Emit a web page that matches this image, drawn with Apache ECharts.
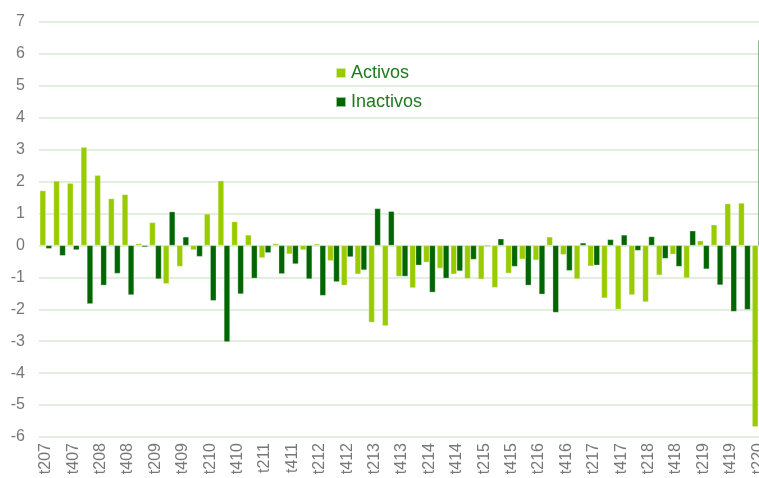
<!DOCTYPE html>
<html>
<head>
<meta charset="utf-8">
<script src="https://cdn.jsdelivr.net/npm/echarts@6/dist/echarts.min.js"></script>
<style>html,body{margin:0;padding:0;background:#fff;overflow:hidden;}#c{width:759px;height:478px;}</style>
</head>
<body>
<div id="c"></div>
<script>
var categories = ["t207","t307","t407","t108","t208","t308","t408","t109","t209","t309","t409","t110","t210","t310","t410","t111","t211","t311","t411","t112","t212","t312","t412","t113","t213","t313","t413","t114","t214","t314","t414","t115","t215","t315","t415","t116","t216","t316","t416","t117","t217","t317","t417","t118","t218","t318","t418","t119","t219","t319","t419","t120","t220"];
var activos = [1.72,2.02,1.95,3.08,2.2,1.47,1.6,0.06,0.72,-1.2,-0.66,-0.14,0.99,2.03,0.75,0.33,-0.39,0.06,-0.27,-0.14,0.05,-0.48,-1.25,-0.9,-2.41,-2.52,-0.97,-1.33,-0.53,-0.72,-0.9,-1.04,-1.06,-1.32,-0.87,-0.43,-0.46,0.27,-0.29,-1.05,-0.65,-1.65,-2.0,-1.55,-1.77,-0.93,-0.28,-1.02,0.15,0.65,1.31,1.33,-5.68];
var inactivos = [-0.1,-0.32,-0.14,-1.83,-1.25,-0.88,-1.55,-0.05,-1.05,1.06,0.27,-0.35,-1.73,-3.02,-1.52,-1.03,-0.23,-0.89,-0.58,-1.05,-1.57,-1.14,-0.36,-0.77,1.16,1.07,-0.97,-0.62,-1.47,-1.03,-0.8,-0.44,-0.03,0.21,-0.66,-1.25,-1.53,-2.1,-0.79,0.08,-0.62,0.19,0.33,-0.16,0.28,-0.41,-0.66,0.46,-0.74,-1.24,-2.07,-2.01,6.43];
var yMin = -6, yMax = 7, yStep = 1;

var chart = echarts.init(document.getElementById('c'), null, {renderer: 'canvas'});
chart.setOption({
  animation: false,
  backgroundColor: '#ffffff',
  textStyle: {fontFamily: 'Liberation Sans, Arial, sans-serif'},
  legend: {
    orient: 'vertical',
    left: 330,
    top: 59,
    itemWidth: 10,
    itemHeight: 10,
    itemGap: 11,
    icon: 'rect',
    textStyle: {color: '#1f7a1f', fontSize: 18, fontFamily: 'Liberation Sans, Arial, sans-serif'},
    data: ['Activos', 'Inactivos']
  },
  grid: {left: 39, width: 726, top: 22, bottom: 41, containLabel: false, outerBoundsMode: 'none'},
  xAxis: {
    type: 'category',
    data: categories,
    axisLine: {show: false},
    axisTick: {show: false},
    axisLabel: {
      interval: 1,
      rotate: 90,
      margin: 6,
      color: '#777777',
      fontSize: 16,
      fontFamily: 'Liberation Sans, Arial, sans-serif'
    },
    splitLine: {show: false}
  },
  yAxis: {
    type: 'value',
    min: yMin,
    max: yMax,
    interval: yStep,
    axisLine: {show: false},
    axisTick: {show: false},
    axisLabel: {color: '#777777', fontSize: 16, margin: 14, fontFamily: 'Liberation Sans, Arial, sans-serif'},
    splitLine: {lineStyle: {color: '#d9e9d3', width: 1.5}}
  },
  series: [
    {
      name: 'Activos',
      type: 'bar',
      data: activos,
      barGap: '0%',
      barCategoryGap: '12%',
      itemStyle: {color: '#99cc00', borderColor: 'rgba(255,255,255,0.6)', borderWidth: 0.5}
    },
    {
      name: 'Inactivos',
      type: 'bar',
      data: inactivos,
      barGap: '0%',
      barCategoryGap: '12%',
      itemStyle: {color: '#006600', borderColor: 'rgba(255,255,255,0.6)', borderWidth: 0.5}
    }
  ]
});
</script>
</body>
</html>
